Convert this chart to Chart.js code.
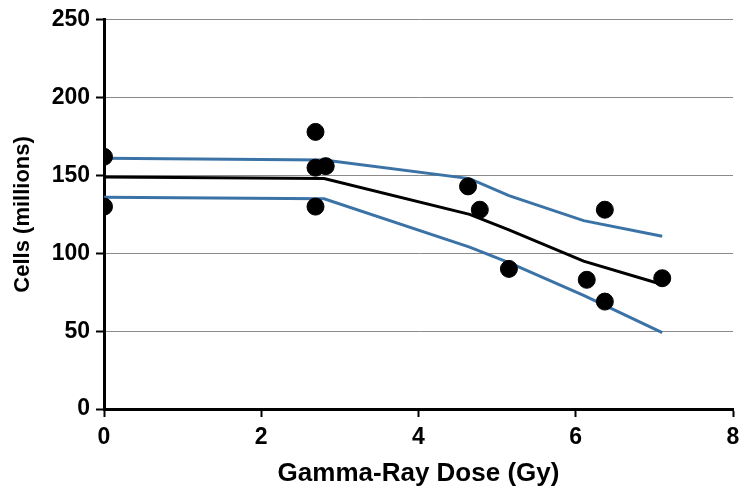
<!DOCTYPE HTML>
<html lang="en">
<head>
    <meta charset="UTF-8">
    <title>Cells vs Gamma-Ray Dose</title>
    <script src="https://cdn.jsdelivr.net/npm/chart.js"></script>
    <style>
        html, body { margin: 0; padding: 0; background: #fff; }
        #wrap { width: 750px; height: 498px; }
    </style>
</head>
<body>
<div id="wrap"><canvas id="doseChart" width="750" height="498"></canvas></div>

<script>
    // measured cells at each dose
    const cellDose = [0, 0, 2.69, 2.69, 2.82, 2.69, 4.63, 4.78, 5.15, 6.14, 6.37, 6.37, 7.1];
    const cellCount = [162, 130, 178, 155, 156, 130, 143, 128, 90, 83, 128, 69, 84];

    // fitted curve and band
    const fitDose = [0, 2.8, 4.65, 5.15, 6.1, 7.1];
    const fitMean = [149, 148, 125, 115, 95, 80];
    const fitUpper = [161, 160, 148, 137, 121, 111];
    const fitLower = [136, 135, 104, 94, 73, 49];

    const xTicks = [0, 2, 4, 6, 8];
    const yTicks = [0, 50, 100, 150, 200, 250];

    const toPoints = (xs, ys) => xs.map((x, i) => ({ x: x, y: ys[i] }));
    const fontFamily = "'Liberation Sans', Arial, sans-serif";
    const blue = '#3b73a6';

    const lineSet = (data, color) => ({
        data: data,
        showLine: true,
        borderColor: color,
        borderWidth: 3,
        pointRadius: 0,
        fill: false,
        tension: 0,
        order: 1
    });

    new Chart(document.getElementById('doseChart'), {
        type: 'scatter',
        data: {
            datasets: [
                {
                    data: toPoints(cellDose, cellCount),
                    backgroundColor: '#000',
                    borderColor: '#000',
                    pointRadius: 8.5,
                    order: 0
                },
                lineSet(toPoints(fitDose, fitUpper), blue),
                lineSet(toPoints(fitDose, fitMean), '#000'),
                lineSet(toPoints(fitDose, fitLower), blue)
            ]
        },
        options: {
            responsive: false,
            animation: false,
            layout: { padding: { top: 19, right: 17, left: 0, bottom: 0 } },
            plugins: { legend: { display: false }, tooltip: { enabled: false } },
            scales: {
                x: {
                    type: 'linear',
                    min: 0, max: 8,
                    afterBuildTicks: s => { s.ticks = xTicks.map(v => ({ value: v })); },
                    afterFit: s => { s.height = 89; },
                    border: { display: true, color: '#000', width: 3 },
                    grid: { drawOnChartArea: false, tickLength: 8, tickColor: '#000', tickWidth: 2 },
                    ticks: { color: '#000', padding: 7, font: { family: fontFamily, size: 23, weight: 'bold' } },
                    title: {
                        display: true, text: 'Gamma-Ray Dose (Gy)', color: '#000',
                        padding: { top: 0, bottom: 9 },
                        font: { family: fontFamily, size: 26, weight: 'bold' }
                    }
                },
                y: {
                    min: 0, max: 250,
                    afterBuildTicks: s => { s.ticks = yTicks.map(v => ({ value: v })); },
                    afterFit: s => { s.width = 104; },
                    border: { display: true, color: '#000', width: 3 },
                    grid: { color: '#8a8a8a', lineWidth: 1, tickLength: 8, tickColor: '#000', tickWidth: 2 },
                    ticks: { color: '#000', padding: 6, font: { family: fontFamily, size: 23, weight: 'bold' } },
                    title: {
                        display: true, text: 'Cells (millions)', color: '#000',
                        padding: { top: 10, bottom: 0 },
                        font: { family: fontFamily, size: 22, weight: 'bold' }
                    }
                }
            }
        }
    });
</script>
</body>
</html>
